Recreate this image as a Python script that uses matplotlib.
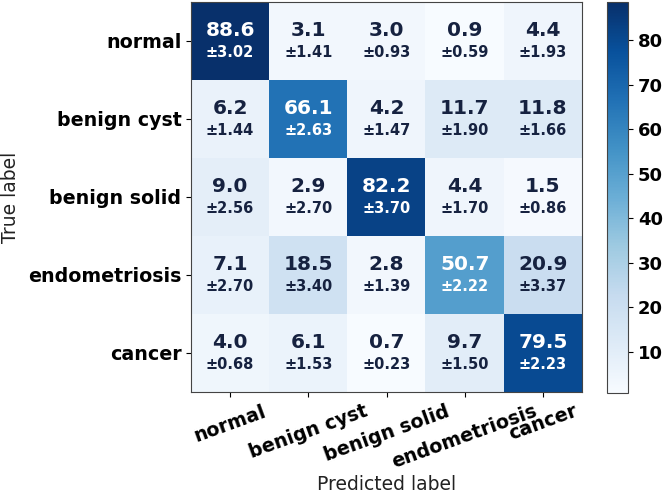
import numpy as np
import matplotlib
matplotlib.use("Agg")
import matplotlib.pyplot as plt

labels = ["normal", "benign cyst", "benign solid", "endometriosis", "cancer"]
means = np.array([
    [88.6, 3.1, 3.0, 0.9, 4.4],
    [6.2, 66.1, 4.2, 11.7, 11.8],
    [9.0, 2.9, 82.2, 4.4, 1.5],
    [7.1, 18.5, 2.8, 50.7, 20.9],
    [4.0, 6.1, 0.7, 9.7, 79.5],
])
stds = np.array([
    [3.02, 1.41, 0.93, 0.59, 1.93],
    [1.44, 2.63, 1.47, 1.90, 1.66],
    [2.56, 2.70, 3.70, 1.70, 0.86],
    [2.70, 3.40, 1.39, 2.22, 3.37],
    [0.68, 1.53, 0.23, 1.50, 2.23],
])

fig = plt.figure(figsize=(6.65, 4.96), dpi=100)
ax = fig.add_axes([191/665, 1 - 392/496, (582-191)/665, 390/496])
cax = fig.add_axes([607/665, 1 - 393/496, 21/665, 391/496])

im = ax.imshow(means, cmap="Blues", aspect="auto")
cb = fig.colorbar(im, cax=cax)
cb.set_ticks([10, 20, 30, 40, 50, 60, 70, 80])
for t in cb.ax.get_yticklabels():
    t.set_fontweight("bold")
    t.set_fontsize(13)

thresh = (means.max() + means.min()) / 2.0
dark = "#162240"
for i in range(means.shape[0]):
    for j in range(means.shape[1]):
        c = "white" if means[i, j] > thresh else dark
        ax.text(j, i - 0.13, f"{means[i, j]:.1f}", ha="center", va="center",
                fontsize=14.5, fontweight="bold", color=c)
        ax.text(j, i + 0.15, f"±{stds[i, j]:.2f}", ha="center", va="center",
                fontsize=10.5, fontweight="bold", color=c)

ax.set_xticks(range(len(labels)))
ax.set_yticks(range(len(labels)))
ax.set_xticklabels(labels, rotation=20, ha="center", fontsize=13.7, fontweight="bold")
ax.set_yticklabels(labels, fontsize=13.7, fontweight="bold")
ax.set_xlabel("Predicted label", fontsize=13.5, color="#222222", labelpad=2)
ax.set_ylabel("True label", fontsize=13.5, color="#222222", labelpad=6)
for s in ax.spines.values():
    s.set_color("#444444")
for s in cax.spines.values():
    s.set_color("#444444")

fig.savefig("out.png", dpi=100)
